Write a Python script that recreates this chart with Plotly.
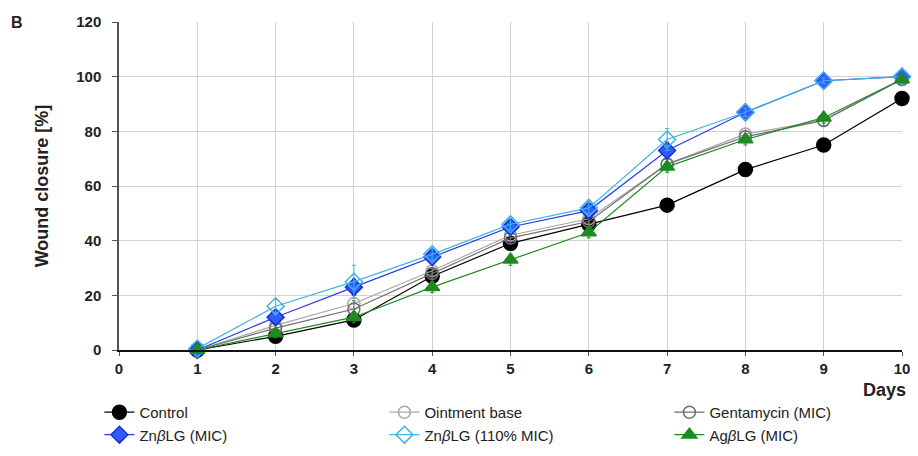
import plotly.graph_objects as go

# Wound closure over time for each treatment group
days = [1, 2, 3, 4, 5, 6, 7, 8, 9, 10]

control = [0, 5, 11, 27, 39, 46, 53, 66, 75, 92]
ointment_base = [0, 9, 17, 29, 42, 48, 68, 79, 84, 99]
gentamycin = [0, 8, 15, 28, 41, 47, 68, 78, 84, 99]
zn_mic = [0, 12, 23, 34, 45, 51, 73, 87, 98.5, 100]
zn_110 = [0.5, 16, 25, 35, 46, 52, 77, 87, 98.5, 100]
ag_mic = [0, 6, 12, 23, 33, 43, 67, 77, 85, 99]

control_err = [0, 1, 1.5, 1.5, 1.5, 1.5, 1.5, 1.5, 1.5, 1.5]
ointment_err = [0, 1.5, 3, 2, 2, 2, 2, 2, 2, 1]
gentamycin_err = [0, 1.5, 3, 2, 2, 2, 2, 2, 2, 1]
zn_mic_err = [0, 2, 3, 2, 2, 2, 3, 1.5, 1, 0.5]
zn_110_err = [0.5, 2.5, 6, 2, 2, 2, 4, 1.5, 1, 0.5]
ag_err = [0, 1.5, 2, 2, 2, 2, 2, 2, 2, 1]

x_ticks = [0, 1, 2, 3, 4, 5, 6, 7, 8, 9, 10]
y_ticks = [0, 20, 40, 60, 80, 100, 120]

FONT = "Liberation Sans, Arial, sans-serif"

series = [
    ("Control", control, control_err, "#000000", "#000000", "circle", 14, "#000000"),
    ("Ointment base", ointment_base, ointment_err, "#a8a8a8", "#a8a8a8", "circle-open", 12, "#a8a8a8"),
    ("Gentamycin (MIC)", gentamycin, gentamycin_err, "#6e6e6e", "#6e6e6e", "circle-open", 12, "#6e6e6e"),
    ("Zn<i>β</i>LG (MIC)", zn_mic, zn_mic_err, "#2a3ce8", "#2f5cff", "diamond", 13, "#1a2fd0"),
    ("Zn<i>β</i>LG (110% MIC)", zn_110, zn_110_err, "#3cb4e6", "#3cb4e6", "diamond-open", 13, "#3cb4e6"),
    ("Ag<i>β</i>LG (MIC)", ag_mic, ag_err, "#1f8a1f", "#1f8a1f", "triangle-up", 13, "#1f8a1f"),
]

fig = go.Figure()
for name, vals, err, lcol, mcol, sym, size, mline in series:
    fig.add_trace(go.Scatter(
        x=days, y=vals, name=name, mode="lines+markers",
        line=dict(color=lcol, width=1.2),
        marker=dict(symbol=sym, size=size, color=mcol,
                    line=dict(color=mline, width=1.5)),
        error_y=dict(type="data", array=err, visible=True,
                     color=lcol, thickness=1, width=2),
        cliponaxis=False,
    ))

fig.update_layout(
    width=918, height=456,
    margin=dict(l=119, r=16, t=22, b=106, autoexpand=False),
    plot_bgcolor="white", paper_bgcolor="white",
    font=dict(family=FONT, color="#222222"),
    showlegend=True,
    legend=dict(
        orientation="h", x=-0.025, y=-0.14, xanchor="left", yanchor="top",
        entrywidth=240, entrywidthmode="pixels", itemwidth=30,
        font=dict(family=FONT, size=15, color="#222222"),
        tracegroupgap=0, bgcolor="rgba(0,0,0,0)",
    ),
    xaxis=dict(
        range=[0, 10], tickvals=x_ticks, ticktext=[str(t) for t in x_ticks],
        showgrid=True, gridcolor="#d2d2d2", gridwidth=1,
        showline=True, linecolor="#111111", linewidth=1.5,
        ticks="outside", ticklen=4, tickcolor="#555555",
        tickfont=dict(family=FONT, size=15, weight="bold", color="#222222"),
        zeroline=False,
    ),
    yaxis=dict(
        range=[0, 120], tickvals=y_ticks,
        showgrid=True, gridcolor="#d2d2d2", gridwidth=1,
        showline=True, linecolor="#555555", linewidth=1.5,
        ticks="outside", ticklen=5, tickcolor="#555555",
        ticklabelstandoff=8,
        tickfont=dict(family=FONT, size=15, weight="bold", color="#222222"),
        title=dict(text="Wound closure [%]", standoff=23,
                   font=dict(family=FONT, size=18, weight="bold", color="#222222")),
        zeroline=False,
    ),
    annotations=[
        dict(text="<b>Days</b>", xref="paper", yref="paper", x=1.0, y=-0.122,
             xanchor="right", yanchor="middle", xshift=6, showarrow=False,
             font=dict(family=FONT, size=18, color="#222222")),
        dict(text="<b>B</b>", xref="paper", yref="paper", x=-0.13, y=1.0,
             xanchor="center", yanchor="middle", showarrow=False,
             font=dict(family=FONT, size=16, color="#222222")),
    ],
)

fig.write_html("out.html")
